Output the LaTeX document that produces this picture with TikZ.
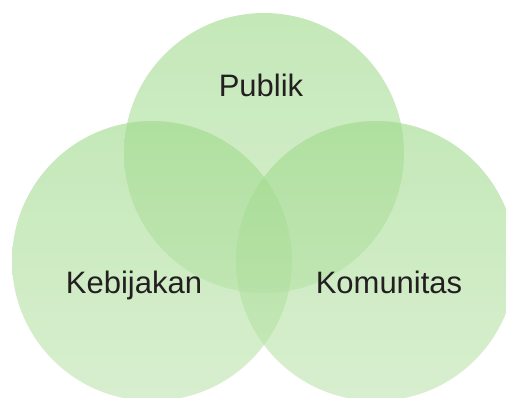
\documentclass[tikz,border=0pt]{standalone}
\usepackage{fontspec}
\setmainfont{Liberation Sans}
\definecolor{gtop}{RGB}{157,217,137}
\definecolor{gbot}{RGB}{190,228,175}
\definecolor{txt}{RGB}{35,31,32}
\tikzset{
  venn/.style={top color=gtop, bottom color=gbot, fill opacity=0.6},
  lbl/.style={anchor=base, text=txt, font=\fontsize{31}{31}\selectfont, inner sep=0pt}
}
\begin{document}
\begin{tikzpicture}[x=1pt,y=1pt]
\useasboundingbox (0,0) rectangle (506,397);
\clip (0,0) rectangle (506,397);
\shade[venn] (264,244) circle (140);
\shade[venn] (152,136) circle (140);
\shade[venn] (376,136) circle (140);
\node[lbl] (publik) at (261,300) {Publik};
\node[lbl] (kebijakan) at (134,104) {Kebijakan};
\node[lbl] (komunitas) at (389,104) {Komunitas};
\end{tikzpicture}
\end{document}
